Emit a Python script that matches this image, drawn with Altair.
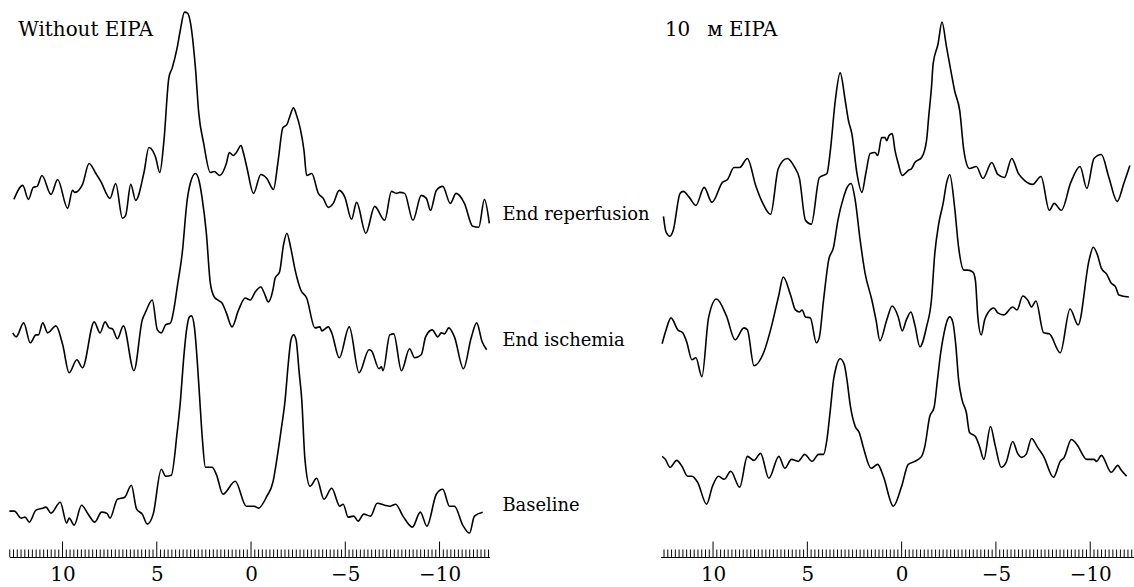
import altair as alt
import numpy as np
import pandas as pd

# 31P spectra, chemical shift in ppm (x) and signal in arbitrary units (y)

# ---- Without EIPA ----
ctrl_reperf_ppm = [12.58, 12.11, 11.81, 11.55, 11.35, 11.09, 10.61, 10.26, 9.73, 9.47, 9.34, 8.94, 8.59, 8.23,
                   7.97, 7.48, 7.18, 6.82, 6.65, 6.38, 6.12, 5.68, 5.42, 5.22, 5.06, 4.84, 4.62, 4.36, 4.18, 3.92,
                   3.74, 3.53, 3.37, 3.21, 2.95, 2.77, 2.51, 2.16, 1.95, 1.66, 1.31, 1.15, 0.94, 0.78, 0.53, 0.41,
                   0.22, -0.13, -0.52, -0.84, -1.19, -1.44, -1.69, -1.90, -2.07, -2.25, -2.39, -2.60, -2.81, -2.95,
                   -3.22, -3.57, -3.83, -4.10, -4.36, -4.68, -4.98, -5.33, -5.60, -6.09, -6.56, -7.09, -7.45, -7.71,
                   -7.89, -8.15, -8.59, -9.03, -9.30, -9.52, -9.83, -10.17, -10.57, -10.88, -11.32, -11.76, -12.08,
                   -12.38, -12.64]
ctrl_reperf_int = [1, 15, 1, 13, 14, 25, 6, 21, -8, 10, 8, 16, 37, 27,
                   19, 2, 17, -18, -15, 16, 0, 28, 53, 50, 43, 28, 60, 123, 133, 153,
                   172, 189, 188, 178, 133, 87, 57, 28, 29, 25, 37, 48, 45, 48, 55, 48,
                   33, 7, 26, 22, 11, 40, 73, 76, 85, 93, 87, 73, 50, 25,
                   27, 7, 2, -7, -3, 10, 3, -19, -2, -33, -6, -20, 9, 7,
                   8, 7, -20, 5, 2, -10, 10, 14, -3, 7, -3, -26, -27,
                   1, -23]

ctrl_isch_ppm = [12.64, 12.46, 12.06, 11.71, 11.41, 11.28, 11.05, 10.79, 10.35, 9.99, 9.65, 9.24, 8.94, 8.32,
                 8.01, 7.74, 7.53, 7.35, 7.09, 6.77, 6.21, 5.77, 5.59, 5.24, 4.97, 4.76, 4.53, 4.27, 4.10, 3.90,
                 3.65, 3.39, 3.21, 2.95, 2.76, 2.60, 2.37, 2.16, 1.95, 1.77, 1.54, 1.31, 1.01, 0.66, 0.31, 0.04,
                 -0.22, -0.52, -0.70, -0.92, -1.16, -1.28, -1.51, -1.72, -1.90, -2.11, -2.34, -2.64, -2.95, -3.39,
                 -3.66, -3.75, -4.10, -4.28, -4.68, -5.21, -5.73, -6.26, -6.39, -6.79, -6.92, -7.00, -7.36, -7.57,
                 -7.98, -8.41, -8.68, -9.03, -9.26, -9.61, -9.91, -10.09, -10.26, -10.49, -10.79, -11.27, -11.68,
                 -11.97, -12.26, -12.50]
ctrl_isch_int = [2, -2, 12, -8, 0, 0, 12, 2, 9, -10, -38, -25, -33, 13,
                 2, 13, 7, 6, -4, 9, -36, 15, 23, 35, 5, 2, 10, 12, 25, 50,
                 82, 135, 153, 162, 155, 138, 102, 52, 38, 35, 32, 22, 8, 25, 37, 35,
                 43, 48, 42, 33, 45, 57, 63, 90, 102, 87, 65, 45, 37, 7,
                 8, 4, 8, 2, -23, 8, -38, -15, -16, -34, -32, -36, 0, 1,
                 -36, -14, -23, -20, -2, 5, -2, 2, 1, 7, -2, -34, -3,
                 12, -7, -15]

ctrl_base_ppm = [12.82, 12.55, 12.20, 11.99, 11.76, 11.41, 11.05, 10.88, 10.61, 10.12, 9.78, 9.65, 9.38, 8.99,
                 8.64, 8.29, 7.93, 7.65, 7.48, 7.09, 6.70, 6.35, 6.07, 5.77, 5.50, 5.19, 4.76, 4.53, 4.23, 3.92,
                 3.74, 3.58, 3.42, 3.27, 3.16, 3.00, 2.84, 2.72, 2.58, 2.42, 2.07, 1.84, 1.49, 0.84, 0.25, -0.17,
                 -0.40, -0.84, -1.16, -1.37, -1.60, -1.81, -1.97, -2.12, -2.26, -2.39, -2.55, -2.69, -2.86, -3.13,
                 -3.48, -3.87, -4.28, -4.71, -4.89, -5.15, -5.45, -5.68, -5.98, -6.34, -6.69, -7.09, -7.36, -7.67,
                 -8.06, -8.56, -8.98, -9.33, -9.83, -10.17, -10.53, -10.79, -11.23, -11.59, -11.85, -12.29]
ctrl_base_int = [0, 0, -7, -6, -11, 1, 3, 4, -2, 9, -12, -7, -14, 6,
                 -3, -11, -1, -2, -7, 12, 14, 26, 2, -3, -13, -3, 42, 35, 36, 79,
                 112, 152, 182, 195, 196, 184, 147, 112, 72, 44, 44, 37, 17, 30, 5, 5,
                 3, 15, 29, 52, 82, 112, 147, 172, 177, 172, 140, 112, 52, 25,
                 33, 12, 23, 5, 7, -6, -5, -10, -3, -5, 8, 6, 5, 7,
                 -5, -16, -1, -15, 17, 22, 5, 5, -14, -22, -5, -1]

# ---- With EIPA ----
eipa_reperf_ppm = [12.63, 12.49, 12.28, 12.11, 11.75, 11.58, 11.26, 10.91, 10.47, 10.06, 9.50, 9.23, 8.89, 8.59,
                   8.18, 7.74, 7.36, 6.95, 6.54, 6.07, 5.67, 5.42, 5.10, 4.79, 4.36, 3.96, 3.78, 3.52, 3.26, 2.99,
                   2.82, 2.64, 2.37, 2.11, 1.90, 1.67, 1.41, 1.27, 1.06, 0.88, 0.79, 0.67, 0.50, 0.35, 0.18, -0.03,
                   -0.35, -0.53, -0.70, -1.06, -1.32, -1.44, -1.58, -1.67, -1.93, -2.14, -2.37, -2.64, -2.81, -3.08,
                   -3.30, -3.60, -3.96, -4.31, -4.78, -5.10, -5.45, -5.84, -6.19, -6.51, -6.94, -7.39, -7.83, -8.09,
                   -8.47, -8.97, -9.46, -9.82, -10.20, -10.59, -10.99, -11.43, -11.78, -12.10]
eipa_reperf_int = [-31, -47, -51, -45, -8, -6, -12, -20, -2, -17, 3, 6, 18, 18,
                   27, 0, -18, -29, 17, 27, 18, 7, -35, -39, 8, 12, 35, 85, 113, 85,
                   65, 52, 12, -7, 12, 32, 33, 30, 48, 48, 45, 50, 52, 35, 22, 10,
                   15, 17, 23, 28, 45, 70, 98, 122, 142, 164, 140, 112, 95, 75,
                   35, 17, 19, 7, 23, 11, 8, 27, 12, 5, 1, 9, -25, -18,
                   -25, 3, 19, -3, 27, 31, 8, -16, 2, 20]

eipa_isch_ppm = [12.70, 12.49, 12.23, 11.87, 11.61, 11.40, 11.12, 10.91, 10.59, 10.24, 9.82, 9.29, 8.83, 8.36,
                 8.18, 7.83, 7.30, 6.95, 6.51, 6.28, 5.89, 5.63, 5.42, 5.28, 5.10, 4.84, 4.52, 4.36, 4.14, 3.87,
                 3.61, 3.38, 3.08, 2.89, 2.68, 2.46, 2.20, 1.94, 1.58, 1.36, 1.15, 0.79, 0.50, 0.18, -0.03, -0.25,
                 -0.49, -0.70, -0.97, -1.32, -1.58, -1.76, -1.97, -2.20, -2.39, -2.55, -2.81, -3.02, -3.30, -3.51,
                 -3.78, -3.91, -4.04, -4.22, -4.40, -4.57, -4.89, -5.10, -5.41, -5.89, -6.12, -6.42, -6.68, -6.89,
                 -7.12, -7.53, -7.83, -8.41, -8.93, -9.36, -9.94, -10.16, -10.37, -10.59, -10.87, -11.11, -11.35,
                 -11.52, -12.05]
eipa_isch_int = [-24, -10, 2, -10, -13, -22, -40, -38, -57, 2, 21, 4, -20, -8,
                 -10, -46, -32, -10, 25, 43, 25, 10, 8, 10, 3, 2, -23, -17, 20, 60,
                 73, 100, 123, 133, 137, 120, 80, 47, 20, 0, -21, 0, 14, 3, -11, 0,
                 8, -5, -27, -7, 20, 67, 97, 117, 138, 146, 113, 73, 50, 50,
                 48, 40, 3, -15, 0, 7, 12, 7, 5, 13, 10, 24, 20, 13,
                 19, -13, -14, -33, 11, -5, 60, 73, 66, 52, 46, 37, 33,
                 25, 23]

eipa_base_ppm = [12.70, 12.53, 12.28, 11.93, 11.65, 11.35, 11.12, 10.82, 10.34, 10.03, 9.71, 9.41, 9.06, 8.59,
                 8.18, 7.83, 7.48, 7.04, 6.51, 6.20, 5.84, 5.49, 5.14, 4.75, 4.40, 4.14, 3.96, 3.78, 3.61, 3.47,
                 3.26, 3.04, 2.90, 2.73, 2.46, 2.25, 2.03, 1.62, 1.27, 0.97, 0.44, 0.00, -0.35, -0.70, -1.06, -1.23,
                 -1.49, -1.72, -1.90, -2.07, -2.23, -2.39, -2.55, -2.71, -2.87, -3.02, -3.20, -3.43, -3.60, -3.91,
                 -4.13, -4.36, -4.71, -4.96, -5.28, -5.54, -5.89, -6.15, -6.36, -6.60, -6.89, -7.21, -7.53, -8.05,
                 -8.41, -8.62, -9.00, -9.29, -9.82, -10.20, -10.34, -10.59, -11.11, -11.47, -11.61, -11.93]
eipa_base_int = [8, 5, -3, 4, -2, -12, -12, -18, -40, -22, -12, -15, -7, -23,
                 8, 4, 11, -14, 8, -4, 5, 3, 10, 3, 10, 10, 25, 55, 85, 98,
                 106, 100, 85, 60, 38, 32, 17, -4, 0, -12, -42, -22, 0, 3, 8, 18,
                 48, 57, 85, 112, 130, 143, 148, 143, 120, 85, 65, 52, 32, 28,
                 18, 5, 38, 19, -3, 2, 23, 11, 7, 10, 26, 17, 8, -13,
                 3, 7, 25, 20, 5, 5, 3, 9, -8, -1, -5, -12]

# stacking offsets of the three spectra in each panel (a.u.)
ctrl_offsets = [358, 223, 46]
eipa_offsets = [373, 238, 93]
trace_names = ["End reperfusion", "End ischemia", "Baseline"]

axis_values = [10, 5, 0, -5, -10]

H = 558
FONT = "DejaVu Serif"
ONE_ROW = pd.DataFrame({"k": [0]})


def build_frame(series, offsets):
    rows = []
    for name, (ppm, val), off in zip(trace_names, series, offsets):
        for i, (p, v) in enumerate(zip(ppm, val)):
            rows.append({"trace": name, "i": i, "ppm": p, "y": v + off})
    return pd.DataFrame(rows)


def tick_frame(domain):
    hi, lo = domain
    minor = [round(v, 1) for v in np.arange(-13.0, 13.01, 0.2)]
    minor = [v for v in minor if lo <= v <= hi and v not in axis_values]
    return pd.DataFrame({"ppm": minor}), pd.DataFrame({"ppm": axis_values})


def text_layer(text, xpos, ypos, size, baseline):
    return alt.Chart(ONE_ROW).mark_text(text=text, font=FONT, fontSize=size,
                                        align="left", baseline=baseline,
                                        color="black").encode(
        x=alt.value(xpos), y=alt.value(ypos))


def panel(df, domain, width, titles, show_labels):
    x = alt.X("ppm:Q",
              scale=alt.Scale(domain=domain, nice=False, zero=False),
              axis=alt.Axis(values=axis_values, ticks=False, grid=False, title=None,
                            labelFont=FONT, labelFontSize=20, labelColor="black",
                            labelPadding=8, domainColor="black", domainWidth=1.2,
                            labelFlush=False))
    y = alt.Y("y:Q", scale=alt.Scale(domain=[0, H], nice=False, zero=False), axis=None)

    lines = alt.Chart(df).mark_line(color="black", strokeWidth=1.6,
                                    interpolate="monotone").encode(
        x=x, y=y, detail="trace:N", order="i:Q")

    minor_df, major_df = tick_frame(domain)
    minor = alt.Chart(minor_df).mark_rule(color="black", strokeWidth=1).encode(
        x=x, y=alt.value(H - 7.5), y2=alt.value(H))
    major = alt.Chart(major_df).mark_rule(color="black", strokeWidth=1).encode(
        x=x, y=alt.value(H - 15.5), y2=alt.value(H))

    layers = [lines, minor, major]
    for text, xpos in titles:
        layers.append(text_layer(text, xpos, 35, 20, "alphabetic"))
    if show_labels:
        for name, ypos in zip(trace_names, [215, 341, 507]):
            layers.append(text_layer(name, 495, ypos, 18, "middle"))
    return alt.layer(*layers).properties(width=width, height=H)


ctrl_df = build_frame([(ctrl_reperf_ppm, ctrl_reperf_int),
                       (ctrl_isch_ppm, ctrl_isch_int),
                       (ctrl_base_ppm, ctrl_base_int)], ctrl_offsets)
eipa_df = build_frame([(eipa_reperf_ppm, eipa_reperf_int),
                       (eipa_isch_ppm, eipa_isch_int),
                       (eipa_base_ppm, eipa_base_int)], eipa_offsets)

left = panel(ctrl_df, [12.82, -12.65], 482, [("Without EIPA", 9)], True)
right = panel(eipa_df, [12.79, -12.3], 475, [("10", 4.5), ("м EIPA", 47)], False)

chart = alt.hconcat(left, right, spacing=171.6, bounds="flush").properties(
    padding={"left": 5.4, "top": 0, "right": 0, "bottom": 0},
    background="white"
).configure_view(stroke=None)

chart.save("out.html", embed_options={"renderer": "svg", "actions": False})
